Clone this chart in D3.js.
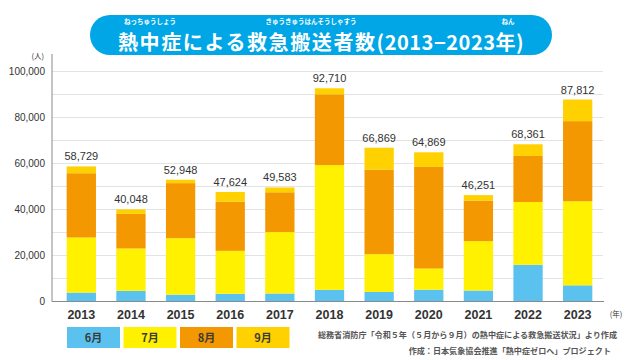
<!DOCTYPE html>
<html>
<head>
<meta charset="utf-8">
<script src="https://cdn.jsdelivr.net/npm/d3@7"></script>
<style>
  body { margin: 0; background: #fff; }
  svg { display: block; }
  text { font-family: "Liberation Sans", "Noto Sans CJK JP", sans-serif; }
  .jp { font-family: "Noto Sans CJK JP", sans-serif; }
</style>
</head>
<body>
<svg id="chart" width="640" height="360"></svg>
<script>
// ---- data ----
const years = ["2013", "2014", "2015", "2016", "2017", "2018", "2019", "2020", "2021", "2022", "2023"];
const months = ["6月", "7月", "8月", "9月"];
const june = [3860, 4634, 2970, 3357, 3481, 5060, 4151, 5120, 4770, 15969, 7031];
const july = [23980, 18407, 24567, 18671, 26702, 54250, 16431, 9210, 21470, 27286, 36549];
const august = [27940, 15077, 23925, 21372, 17302, 30770, 36755, 44190, 17630, 20029, 34835];
const september = [2949, 1930, 1486, 4224, 2098, 2630, 9532, 6349, 2381, 5077, 9397];
const totals = [58729, 40048, 52948, 47624, 49583, 92710, 66869, 64869, 46251, 68361, 87812];
const yTicks = [0, 20000, 40000, 60000, 80000, 100000];

const colors = ["#5bc2ef", "#fff100", "#f39800", "#ffd100"];

const svg = d3.select("#chart");

// table for the stack
const rows = years.map((y, i) => ({
    year: y, "6月": june[i], "7月": july[i], "8月": august[i], "9月": september[i], total: totals[i]
}));

const x = d3.scaleBand().domain(years).range([56.5, 602.5]).paddingInner(0.41).paddingOuter(0.205);
const y = d3.scaleLinear().domain([0, 100000]).range([301.5, 71.5]);

// grid lines every 10,000
svg.append("g").attr("class", "grid")
    .selectAll("line")
    .data(d3.range(10000, 100001, 10000))
    .join("line")
    .attr("x1", 52).attr("x2", 603)
    .attr("y1", d => y(d)).attr("y2", d => y(d))
    .attr("stroke", "#e3e3e3").attr("stroke-width", 1);

// bars
const stack = d3.stack().keys(months)(rows);
svg.append("g").attr("class", "bars")
    .selectAll("g")
    .data(stack)
    .join("g")
    .attr("fill", (d, i) => colors[i])
    .selectAll("rect")
    .data(d => d)
    .join("rect")
    .attr("x", d => x(d.data.year))
    .attr("width", x.bandwidth())
    .attr("y", d => y(d[1]))
    .attr("height", d => y(d[0]) - y(d[1]));

// axes
svg.append("line")
    .attr("x1", 52).attr("x2", 52).attr("y1", 54).attr("y2", y(0))
    .attr("stroke", "#8a8a8a").attr("stroke-width", 1);
svg.append("line")
    .attr("x1", 52).attr("x2", 604).attr("y1", y(0)).attr("y2", y(0))
    .attr("stroke", "#8a8a8a").attr("stroke-width", 1.2);

svg.append("g")
    .selectAll("text")
    .data(yTicks)
    .join("text")
    .attr("x", 45).attr("y", d => y(d) + 3.5)
    .attr("text-anchor", "end")
    .attr("font-size", 10)
    .attr("fill", "#333")
    .text(d => d3.format(",")(d));

svg.append("text").attr("class", "jp")
    .attr("x", 44).attr("y", 59)
    .attr("text-anchor", "end")
    .attr("font-size", 7.5).attr("fill", "#333")
    .text("(人)");

// year labels
svg.append("g")
    .selectAll("text")
    .data(years)
    .join("text")
    .attr("x", d => x(d) + x.bandwidth() / 2)
    .attr("y", 319)
    .attr("text-anchor", "middle")
    .attr("font-size", 12.5)
    .attr("font-weight", "bold")
    .attr("fill", "#333")
    .text(d => d);

svg.append("text").attr("class", "jp")
    .attr("x", 616).attr("y", 317)
    .attr("text-anchor", "middle")
    .attr("font-size", 7.5).attr("fill", "#333")
    .text("(年)");

// totals above bars
svg.append("g")
    .selectAll("text")
    .data(rows)
    .join("text")
    .attr("x", d => x(d.year) + x.bandwidth() / 2)
    .attr("y", d => y(d.total) - 6)
    .attr("text-anchor", "middle")
    .attr("font-size", 11)
    .attr("fill", "#333")
    .text(d => d3.format(",")(d.total));

// legend
const legend = svg.append("g").attr("class", "legend");
legend.selectAll("rect")
    .data(months)
    .join("rect")
    .attr("x", (d, i) => 67 + i * 56.5)
    .attr("y", 327)
    .attr("width", 53).attr("height", 21)
    .attr("fill", (d, i) => colors[i]);
legend.selectAll("text")
    .data(months)
    .join("text")
    .attr("class", "jp")
    .attr("x", (d, i) => 67 + i * 56.5 + 26.5)
    .attr("y", 342)
    .attr("text-anchor", "middle")
    .attr("font-size", 11)
    .attr("font-weight", "bold")
    .attr("fill", "#3a3a3a")
    .text(d => d);

// source notes
svg.append("text").attr("class", "jp")
    .attr("x", 617).attr("y", 338)
    .attr("text-anchor", "end")
    .attr("font-size", 8.1).attr("font-weight", "bold").attr("fill", "#555")
    .text("総務省消防庁「令和５年（５月から９月）の熱中症による救急搬送状況」より作成");
svg.append("text").attr("class", "jp")
    .attr("x", 611).attr("y", 354)
    .attr("text-anchor", "end")
    .attr("font-size", 8.1).attr("font-weight", "bold").attr("fill", "#555")
    .text("作成：日本気象協会推進「熱中症ゼロへ」プロジェクト");

// title banner
svg.append("rect")
    .attr("x", 90).attr("y", 15)
    .attr("width", 462).attr("height", 40)
    .attr("rx", 20)
    .attr("fill", "#00a6e6");

const title = svg.append("text").attr("class", "jp")
    .attr("x", 118).attr("y", 50)
    .attr("font-size", 20)
    .attr("font-weight", "bold")
    .attr("fill", "#fff");
title.append("tspan").attr("textLength", 257).text("熱中症による救急搬送者数");
title.append("tspan").attr("textLength", 147).text("(2013−2023年)");

// furigana
const ruby = [
    { t: "ねっちゅうしょう", x: 150 },
    { t: "きゅうきゅうはんそうしゃすう", x: 311 },
    { t: "ねん", x: 508 }
];
svg.append("g")
    .selectAll("text")
    .data(ruby)
    .join("text")
    .attr("class", "jp")
    .attr("x", d => d.x).attr("y", 24)
    .attr("text-anchor", "middle")
    .attr("font-size", 6.5)
    .attr("font-weight", "bold")
    .attr("fill", "#fff")
    .text(d => d.t);
</script>
</body>
</html>
